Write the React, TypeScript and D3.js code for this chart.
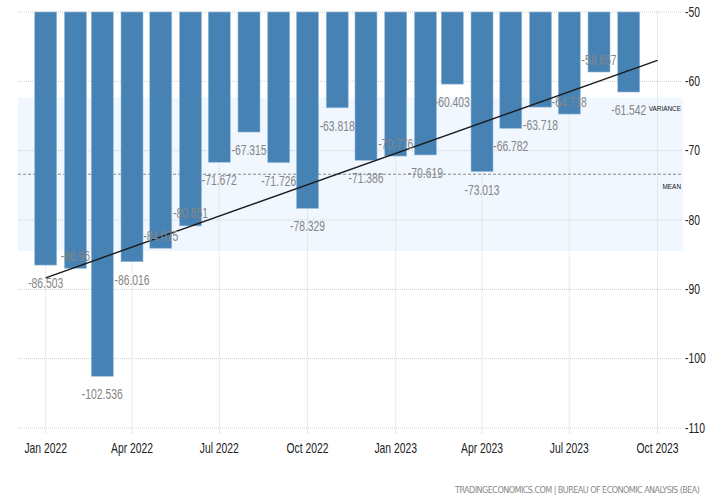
import React from "react";
import * as d3 from "d3";

// monthly values, Jan 2022 .. Sep 2023
const months = [
  "2022-01", "2022-02", "2022-03", "2022-04", "2022-05", "2022-06", "2022-07",
  "2022-08", "2022-09", "2022-10", "2022-11", "2022-12", "2023-01", "2023-02",
  "2023-03", "2023-04", "2023-05", "2023-06", "2023-07", "2023-08", "2023-09",
];
const values = [
  -86.503, -86.96, -102.536, -86.016, -84.075, -80.851, -71.672,
  -67.315, -71.726, -78.329, -63.818, -71.386, -70.776, -70.619,
  -60.403, -73.013, -66.782, -63.718, -64.718, -58.657, -61.542,
];
const yTicks = [-50, -60, -70, -80, -90, -100, -110];
const xTickMonths = ["2022-01", "2022-04", "2022-07", "2022-10", "2023-01", "2023-04", "2023-07", "2023-10"];
// labels drawn above the bar end instead of below
const liftedLabels = ["2022-02", "2022-05", "2022-06", "2023-01", "2023-07", "2023-08"];
const source = "TRADINGECONOMICS.COM | BUREAU OF ECONOMIC ANALYSIS (BEA)";

const W = 720;
const H = 499;
const FONT = "'Liberation Sans', Arial, sans-serif";

const parse = d3.timeParse("%Y-%m");
const fmt = d3.timeFormat("%b %Y");

// condensed look: plain sans squeezed horizontally
const Narrow = ({ x, y, anchor = "middle", size = 13, fill = "#222", sx = 0.78, children }: any) => (
  <text
    transform={`translate(${x},${y}) scale(${sx},1)`}
    textAnchor={anchor}
    dominantBaseline="central"
    fontSize={size}
    fill={fill}
  >
    {children}
  </text>
);

export default function App() {
  const dates = months.map((m) => parse(m) as Date);
  const endDate = parse("2023-10") as Date;

  const x = d3.scaleTime().domain([dates[0], endDate]).range([45.7, 657.5]);
  const y = d3.scaleLinear().domain([-50, -110]).range([12, 428]);

  const left = 18;
  const right = 683;
  const barW = 22;

  const mean = d3.mean(values) as number;
  const sd = d3.deviation(values) as number;

  // least squares trend over month index, drawn up to the next month
  const idx = values.map((_, i) => i);
  const mi = d3.mean(idx) as number;
  const slope =
    d3.sum(idx, (i) => (i - mi) * (values[i] - mean)) /
    d3.sum(idx, (i) => (i - mi) * (i - mi));
  const trendAt = (i: number) => mean + slope * (i - mi);
  const trend = d3.line<[Date, number]>()
    .x((d) => x(d[0]))
    .y((d) => y(d[1]))([
      [dates[0], trendAt(0)],
      [endDate, trendAt(values.length)],
    ]);

  const xTicks = xTickMonths.map((m) => parse(m) as Date);

  return (
    <svg
      width={W}
      height={H}
      style={{ position: "absolute", left: 0, top: 0, background: "#fff" }}
      fontFamily={FONT}
    >
      {/* variance band */}
      <rect
        x={left}
        y={y(mean + sd)}
        width={right - left}
        height={y(mean - sd) - y(mean + sd)}
        fill="#f0f7fe"
      />

      {/* grid */}
      {yTicks.map((t) => (
        <line key={"h" + t} x1={left} x2={right - 2} y1={y(t)} y2={y(t)}
          stroke="#cfcfcf" strokeDasharray="1,1" />
      ))}
      {xTicks.map((d) => (
        <line key={"v" + d.getTime()} x1={x(d)} x2={x(d)} y1={y(-50)} y2={y(-110) + 5}
          stroke="#d6d6d6" strokeDasharray="1,1" />
      ))}

      {/* mean */}
      <line x1={left} x2={right} y1={y(mean)} y2={y(mean)}
        stroke="#8a8a8a" strokeDasharray="3,2" strokeWidth={1} />

      {/* bars */}
      {values.map((v, i) => (
        <rect
          key={months[i]}
          x={x(dates[i]) - barW / 2}
          y={y(-50)}
          width={barW}
          height={y(v) - y(-50)}
          fill="#4682b4"
          stroke="#9dbdd9"
          strokeWidth={0.6}
        />
      ))}

      {/* trend */}
      <path d={trend ?? ""} fill="none" stroke="#1a1a1a" strokeWidth={1.4} />

      {/* value labels */}
      {values.map((v, i) => {
        const up = liftedLabels.includes(months[i]);
        return (
          <Narrow key={"l" + months[i]} x={x(dates[i])} y={y(v) + (up ? -12 : 18.5)}
            size={14} fill="#858585" sx={0.74}>
            {v}
          </Narrow>
        );
      })}

      {/* band labels */}
      <Narrow x={681} y={y(mean + sd) + 11} anchor="end" size={8} fill="#111" sx={0.8}>VARIANCE</Narrow>
      <Narrow x={681} y={y(mean) + 12} anchor="end" size={8} fill="#111" sx={0.8}>MEAN</Narrow>

      {/* right axis */}
      {yTicks.map((t) => (
        <Narrow key={"y" + t} x={685} y={y(t)} anchor="start" size={14} fill="#222" sx={0.74}>
          {t}
        </Narrow>
      ))}

      {/* bottom axis */}
      {xTicks.map((d) => (
        <Narrow key={"x" + d.getTime()} x={x(d)} y={448} size={14} fill="#222" sx={0.74}>
          {fmt(d)}
        </Narrow>
      ))}

      <text x={700} y={490} textAnchor="end" dominantBaseline="central" fontSize={9}
        fill="#8a8a8a" textLength={245} lengthAdjust="spacing"
        fontFamily="'DejaVu Sans Condensed', sans-serif">
        {source}
      </text>
    </svg>
  );
}
